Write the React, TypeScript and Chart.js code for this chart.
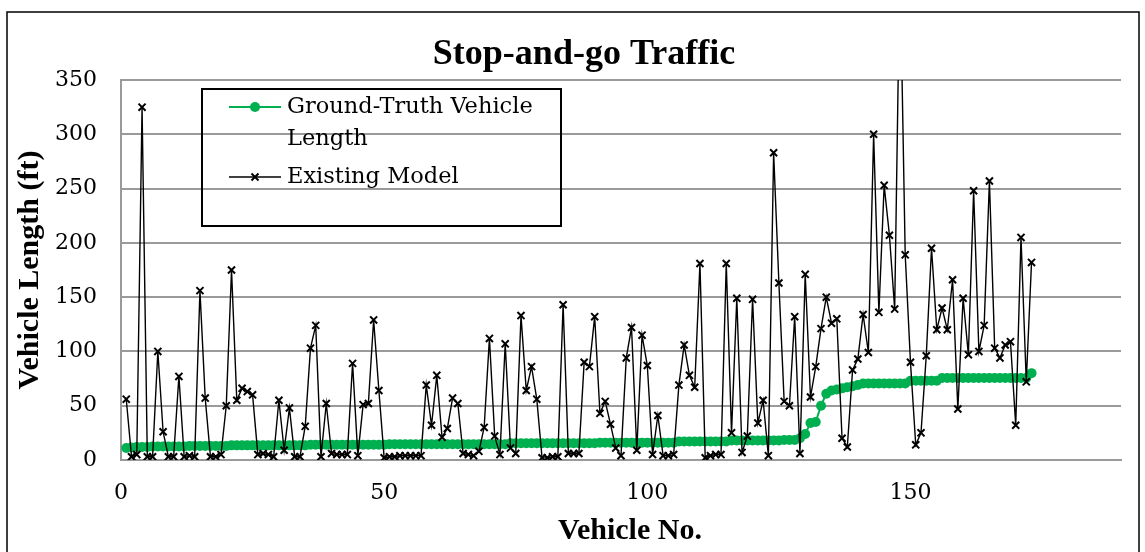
import React, { useEffect, useRef } from "react";
import { Chart, registerables } from "chart.js";

Chart.register(...registerables);

const vehicleNo = [
  1, 2, 3, 4, 5, 6, 7, 8, 9, 10, 11, 12, 13, 14, 15, 16, 17, 18, 19, 20,
  21, 22, 23, 24, 25, 26, 27, 28, 29, 30, 31, 32, 33, 34, 35, 36, 37, 38, 39, 40,
  41, 42, 43, 44, 45, 46, 47, 48, 49, 50, 51, 52, 53, 54, 55, 56, 57, 58, 59, 60,
  61, 62, 63, 64, 65, 66, 67, 68, 69, 70, 71, 72, 73, 74, 75, 76, 77, 78, 79, 80,
  81, 82, 83, 84, 85, 86, 87, 88, 89, 90, 91, 92, 93, 94, 95, 96, 97, 98, 99, 100,
  101, 102, 103, 104, 105, 106, 107, 108, 109, 110, 111, 112, 113, 114, 115, 116, 117, 118, 119, 120,
  121, 122, 123, 124, 125, 126, 127, 128, 129, 130, 131, 132, 133, 134, 135, 136, 137, 138, 139, 140,
  141, 142, 143, 144, 145, 146, 147, 148, 149, 150, 151, 152, 153, 154, 155, 156, 157, 158, 159, 160,
  161, 162, 163, 164, 165, 166, 167, 168, 169, 170, 171, 172, 173,
];

const groundTruth = [
  11, 11.5, 12, 12, 12,
  12.5, 12.5, 12.5, 12.5, 12.5, 12.5, 12.5,
  13, 13, 13, 13, 13, 13, 13, 13,
  13.5, 13.5, 13.5, 13.5, 13.5, 13.5, 13.5, 13.5, 13.5, 13.5, 13.5, 13.5, 13.5, 13.5, 13.5,
  14, 14, 14, 14, 14, 14, 14, 14, 14, 14, 14, 14, 14, 14, 14,
  14.5, 14.5, 14.5, 14.5, 14.5, 14.5, 14.5, 14.5, 14.5, 14.5, 14.5, 14.5, 14.5, 14.5, 14.5, 14.5, 14.5, 14.5, 14.5, 14.5, 14.5, 14.5, 14.5,
  15.5, 15.5, 15.5, 15.5, 15.5, 15.5, 15.5, 15.5, 15.5, 15.5, 15.5, 15.5, 15.5, 15.5, 15.5, 15.5, 15.5,
  16, 16, 16, 16, 16, 16, 16, 16, 16, 16, 16, 16, 16, 16, 16,
  17, 17, 17, 17, 17, 17, 17, 17, 17, 17,
  18, 18, 18, 18, 18, 18, 18, 18, 18, 18,
  18.5, 18.5, 18.5,
  20, 24, 34, 35, 50, 61, 64, 65, 66, 67, 68, 69,
  70.5, 70.5, 70.5, 70.5, 70.5, 70.5, 70.5, 70.5, 70.5,
  73, 73, 73, 73, 73, 73,
  75.5, 75.5, 75.5, 75.5, 75.5, 75.5, 75.5, 75.5, 75.5, 75.5, 75.5, 75.5, 75.5, 75.5, 75.5, 75.5, 75.5,
  80,
];

const existingModel = [
  56, 3, 5, 325, 3, 3, 100, 26, 3, 3,
  77, 3, 4, 3, 156, 57, 3, 3, 5, 50,
  175, 55, 66, 63, 60, 5, 6, 5, 3, 55,
  9, 48, 3, 3, 31, 103, 124, 3, 52, 6,
  5, 5, 5, 89, 4, 51, 52, 129, 64, 2,
  3, 3, 4, 4, 4, 4, 4, 69, 32, 78,
  21, 29, 57, 52, 6, 5, 4, 8, 30, 112,
  22, 5, 107, 11, 6, 133, 64, 86, 56, 2,
  2, 3, 3, 143, 6, 6, 6, 90, 86, 132,
  43, 54, 33, 11, 4, 94, 122, 9, 115, 87,
  5, 41, 4, 4, 5, 69, 106, 78, 67, 181,
  2, 4, 5, 5, 181, 25, 149, 7, 22, 148,
  34, 55, 4, 283, 163, 54, 50, 132, 6, 171,
  58, 86, 121, 150, 126, 130, 20, 12, 83, 93,
  134, 99, 300, 136, 253, 207, 139, 460, 189, 90,
  14, 25, 96, 195, 120, 140, 120, 166, 47, 149,
  97, 248, 100, 124, 257, 103, 94, 106, 109, 32,
  205, 72, 182,
];

const seriesNames = ["Ground-Truth Vehicle", "Length", "Existing Model"];
const chartTitle = "Stop-and-go Traffic";
const xTitle = "Vehicle No.";
const yTitle = "Vehicle Length (ft)";

const GREEN = "#00B050";
const GRID = "#9a9a9a";

const decorPlugin = {
  id: "decor",
  afterDraw(chart: any) {
    const ctx = chart.ctx as CanvasRenderingContext2D;
    ctx.save();
    // outer border
    ctx.strokeStyle = "#000";
    ctx.lineWidth = 1.5;
    ctx.strokeRect(7, 12, 1132, 600);

    ctx.fillStyle = "#000";
    ctx.textAlign = "center";
    ctx.textBaseline = "middle";
    ctx.font = 'bold 36px "Liberation Serif"';
    ctx.fillText(chartTitle, 584, 55);

    ctx.font = 'bold 30px "Liberation Serif"';
    ctx.fillText(xTitle, 630, 531);

    ctx.save();
    ctx.translate(30, 270);
    ctx.rotate(-Math.PI / 2);
    ctx.fillText(yTitle, 0, 0);
    ctx.restore();

    // legend
    ctx.lineWidth = 2;
    ctx.strokeStyle = "#000";
    ctx.strokeRect(202, 89, 359, 137);

    ctx.strokeStyle = GREEN;
    ctx.lineWidth = 2;
    ctx.beginPath();
    ctx.moveTo(229, 107);
    ctx.lineTo(281, 107);
    ctx.stroke();
    ctx.fillStyle = GREEN;
    ctx.beginPath();
    ctx.arc(255, 107, 5, 0, Math.PI * 2);
    ctx.fill();

    ctx.strokeStyle = "#000";
    ctx.lineWidth = 1.4;
    ctx.beginPath();
    ctx.moveTo(229, 177);
    ctx.lineTo(281, 177);
    ctx.stroke();
    ctx.lineWidth = 2;
    ctx.beginPath();
    ctx.moveTo(251.5, 173.5);
    ctx.lineTo(258.5, 180.5);
    ctx.moveTo(258.5, 173.5);
    ctx.lineTo(251.5, 180.5);
    ctx.stroke();

    ctx.fillStyle = "#000";
    ctx.textAlign = "left";
    ctx.font = '22.5px "DejaVu Serif"';
    ctx.fillText(seriesNames[0], 287, 107);
    ctx.fillText(seriesNames[1], 287, 139);
    ctx.fillText(seriesNames[2], 287, 177);
    ctx.restore();
  },
};

export default function App() {
  const canvasRef = useRef<HTMLCanvasElement | null>(null);

  useEffect(() => {
    if (!canvasRef.current) return;
    const chart = new Chart(canvasRef.current, {
      type: "line",
      data: {
        labels: vehicleNo,
        datasets: [
          {
            label: "Existing Model",
            data: existingModel,
            borderColor: "#000",
            backgroundColor: "#000",
            borderWidth: 1.4,
            pointStyle: "crossRot",
            pointRadius: 5,
            pointBorderWidth: 2,
            pointBorderColor: "#000",
            tension: 0,
            order: 0,
          },
          {
            label: "Ground-Truth Vehicle Length",
            data: groundTruth,
            borderColor: GREEN,
            backgroundColor: GREEN,
            borderWidth: 2,
            pointStyle: "circle",
            pointRadius: 5,
            pointBorderWidth: 0,
            pointBackgroundColor: GREEN,
            tension: 0,
            order: 1,
          },
        ],
      },
      options: {
        responsive: false,
        animation: false,
        devicePixelRatio: 1,
        layout: { padding: { left: 10, top: 80, right: 24, bottom: 0 } },
        plugins: {
          legend: { display: false },
          title: { display: false },
          tooltip: { enabled: false },
        },
        scales: {
          x: {
            type: "linear",
            min: 0,
            max: 190,
            grid: { display: false, drawTicks: false },
            border: { display: true, color: GRID, width: 2 },
            ticks: {
              stepSize: 50,
              includeBounds: false,
              padding: 20,
              color: "#000",
              font: { family: '"DejaVu Serif"', size: 22 },
              maxRotation: 0,
            },
            afterFit(scale: any) {
              scale.height = 92;
            },
          },
          y: {
            min: 0,
            max: 350,
            grid: { color: GRID, lineWidth: 2, drawTicks: false },
            border: { display: true, color: GRID, width: 2 },
            ticks: {
              stepSize: 50,
              padding: 24,
              color: "#000",
              font: { family: '"DejaVu Serif"', size: 22 },
            },
            afterFit(scale: any) {
              scale.width = 111;
            },
          },
        },
      },
      plugins: [decorPlugin],
    });
    return () => chart.destroy();
  }, []);

  return (
    <div style={{ position: "absolute", left: 0, top: 0, width: 1145, height: 552, background: "#fff" }}>
      <canvas ref={canvasRef} width={1145} height={552} />
    </div>
  );
}
